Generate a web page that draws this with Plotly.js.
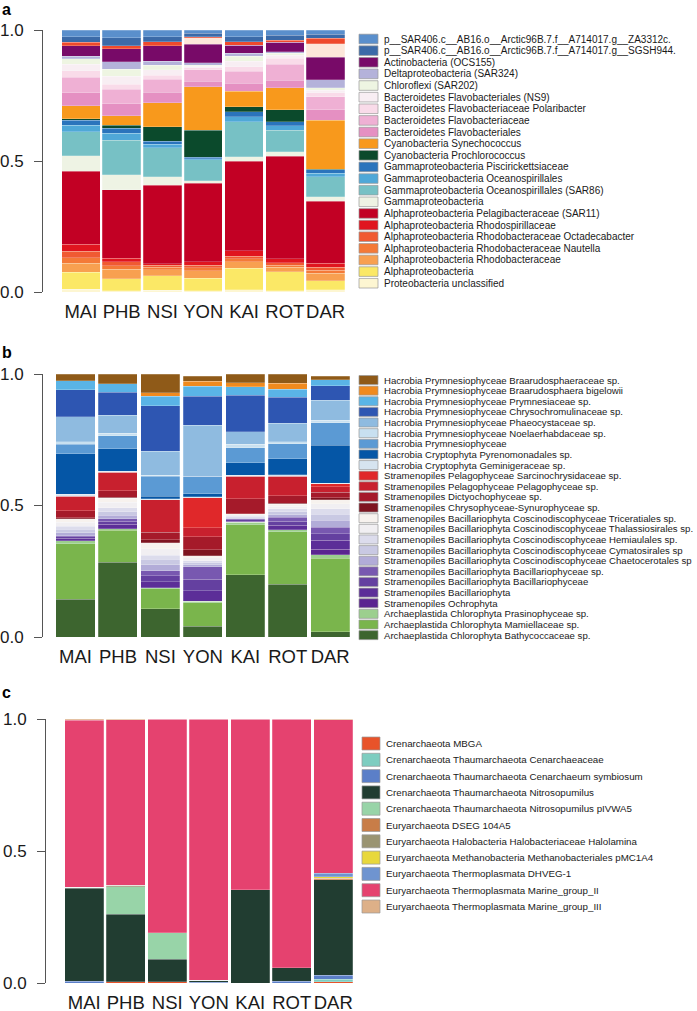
<!DOCTYPE html>
<html><head><meta charset="utf-8">
<script src="https://cdn.plot.ly/plotly-3.0.1.min.js"></script>
<style>body{margin:0;padding:0;background:#fff}#chart{width:697px;height:1011px}</style>
</head><body><div id="chart"></div><script>
const W = 697, H = 1011;
const sites = ['MAI','PHB','NSI','YON','KAI','ROT','DAR'];

// ---------- Panel a (bacteria), stacking order bottom -> top ----------
const taxaA = [
  'Proteobacteria unclassified','Alphaproteobacteria','Alphaproteobacteria Rhodobacteraceae',
  'Alphaproteobacteria Rhodobacteraceae Nautella','Alphaproteobacteria Rhodobacteraceae Octadecabacter',
  'Alphaproteobacteria Rhodospirillaceae','Alphaproteobacteria Pelagibacteraceae (SAR11)',
  'Gammaproteobacteria','Gammaproteobacteria Oceanospirillales (SAR86)','Gammaproteobacteria Oceanospirillales',
  'Gammaproteobacteria Piscirickettsiaceae','Cyanobacteria Prochlorococcus','Cyanobacteria Synechococcus',
  'Bacteroidetes Flavobacteriales','Bacteroidetes Flavobacteriaceae','Bacteroidetes Flavobacteriaceae Polaribacter',
  'Bacteroidetes Flavobacteriales (NS9)','Chloroflexi (SAR202)','Deltaproteobacteria (SAR324)','Actinobacteria (OCS155)',
  '', '',
  'p__SAR406.c__AB16.o__Arctic96B.7.f__A714017.g__SGSH944.','p__SAR406.c__AB16.o__Arctic96B.7.f__A714017.g__ZA3312c.'
];
const colorsA = [
  '#fdf6d2','#fbe866','#f8a050','#f47a38','#f05a32','#e0151f','#c20024',
  '#eef3e4','#77c1c5','#4fa8d8','#2a74bc','#0b4a2c','#f8991c',
  '#e590c2','#efb0d4','#f9dbe9','#f8eef3','#eef5e2','#b4b2da','#780a68',
  '#fde7da','#ef4a2c','#3b6aa8','#5a8fcc'
];
const a_MAI = [.010,.065,.035,.020,.025,.028,.277,.060,.092,.025,.018,.007,.048,.050,.060,.025,.025,.020,.010,.040,0,.013,.022,.025];
const a_PHB = [.005,.046,.036,.013,.015,.013,.262,.057,.133,.025,.020,.012,.036,.045,.055,.020,.030,.027,.028,.050,0,.012,.030,.030];
const a_NSI = [.006,.056,.022,.010,.009,.004,.301,.032,.111,.013,.012,.055,.091,.040,.050,.016,.020,.018,.014,.060,0,.015,.020,.025];
const a_YON = [.004,.048,.029,.012,.010,.013,.299,.009,.080,.005,.005,.104,.166,.020,.045,.007,.005,.004,.010,.070,.025,.005,.012,.013];
const a_KAI = [.008,.082,.026,.010,.011,.021,.342,.016,.134,.019,.019,.019,.060,.030,.045,.018,.020,.020,.012,.030,0,.013,.020,.025];
const a_ROT = [.005,.073,.016,.009,.009,.015,.392,.016,.083,.017,.015,.045,.084,.030,.060,.023,.012,.008,.005,.037,0,.006,.020,.020];
const a_DAR = [.008,.035,.028,.012,.011,.016,.237,.017,.076,.013,.013,.002,.187,.040,.050,.015,.010,.010,.030,.086,.052,.020,.015,.017];
const valsA = [a_MAI,a_PHB,a_NSI,a_YON,a_KAI,a_ROT,a_DAR];

// ---------- Panel b (eukaryotes), stacking order bottom -> top ----------
const taxaB = [
  'Archaeplastida Chlorophyta Bathycoccaceae sp.','Archaeplastida Chlorophyta Mamiellaceae sp.',
  'Archaeplastida Chlorophyta Prasinophyceae sp.','Stramenopiles Ochrophyta','Stramenopiles Bacillariophyta',
  'Stramenopiles Bacillariophyta Bacillariophyceae','Stramenopiles Bacillariophyta Bacillariophyceae sp.',
  'Stramenopiles Bacillariophyta Coscinodiscophyceae Chaetocerotales sp','Stramenopiles Bacillariophyta Coscinodiscophyceae Cymatosirales sp',
  'Stramenopiles Bacillariophyta Coscinodiscophyceae Hemiaulales sp.','Stramenopiles Bacillariophyta Coscinodiscophyceae Thalassiosirales sp.',
  'Stramenopiles Bacillariophyta Coscinodiscophyceae Triceratiales sp.','Stramenopiles Chrysophyceae-Synurophyceae sp.',
  'Stramenopiles Dictyochophyceae sp.','Stramenopiles Pelagophyceae Pelagophyceae sp.','Stramenopiles Pelagophyceae Sarcinochrysidaceae sp.',
  'Hacrobia Cryptophyta Geminigeraceae sp.','Hacrobia Cryptophyta Pyrenomonadales sp.','Hacrobia Prymnesiophyceae',
  'Hacrobia Prymnesiophyceae Noelaerhabdaceae sp.','Hacrobia Prymnesiophyceae Phaeocystaceae sp.',
  'Hacrobia Prymnesiophyceae Chrysochromulinaceae sp.','Hacrobia Prymnesiophyceae Prymnesiaceae sp.',
  'Hacrobia Prymnesiophyceae Braarudosphaera bigelowii','Hacrobia Prymnesiophyceae Braarudosphaeraceae sp.'
];
const colorsB = [
  '#3d652f','#7ab54c','#9ccf8e','#5a2490','#5c2e98','#6440a0','#7858b0',
  '#b2acd8','#c9c9e3','#dcdcec','#f1eff2','#f7f2ee','#7e1520','#a51a2a','#c8202e','#e0282a',
  '#d6e4f0','#0556a6','#5b9ad4','#c8e0f0','#8fbbe0','#2e56b2','#5ab4e6','#f08a1e','#8f5a18'
];
const b_MAI = [.144,.210,.012,0,.009,.006,.004,.012,.012,.013,.015,.012,.004,.028,.054,0,.007,.155,.036,.009,.095,.103,.034,0,.026];
const b_PHB = [.284,.121,.006,0,.018,.012,.008,.013,.015,.015,.020,.015,.004,.025,.070,0,.004,.086,.050,.008,.070,.086,.032,0,.038];
const b_NSI = [.108,.075,.005,0,.022,.022,.020,.023,.020,.015,.026,.022,.011,.029,.124,0,.003,.010,.076,.004,.092,.172,.037,.013,.071];
const b_YON = [.040,.090,.005,0,.041,.044,.047,.007,.008,.008,.011,.008,.022,.051,.033,.115,.004,.011,.067,0,.194,.109,.038,.020,.019];
const b_KAI = [.237,.190,.009,0,.005,.004,.004,.003,.004,.004,.004,.004,0,.058,.085,0,.004,.048,.057,.013,.047,.140,.032,.015,.033];
const b_ROT = [.200,.200,.007,0,.018,.015,.015,.010,.012,.011,.009,.008,.004,.029,.074,0,.005,.061,.057,.007,.070,.099,.031,.023,.035];
const b_DAR = [.020,.280,.013,.020,.034,.025,.025,.027,.023,.020,.020,.015,.008,.020,.022,.010,.003,.144,.086,.009,.077,.054,.024,0,.013];
const valsB = [b_MAI,b_PHB,b_NSI,b_YON,b_KAI,b_ROT,b_DAR];

// ---------- Panel c (archaea), stacking order bottom -> top (= legend order) ----------
const taxaC = [
  'Crenarchaeota MBGA','Crenarchaeota Thaumarchaeota Cenarchaeaceae','Crenarchaeota Thaumarchaeota Cenarchaeum symbiosum',
  'Crenarchaeota Thaumarchaeota Nitrosopumilus','Crenarchaeota Thaumarchaeota Nitrosopumilus pIVWA5',
  'Euryarchaeota DSEG 104A5','Euryarchaeota Halobacteria Halobacteriaceae Halolamina',
  'Euryarchaeota Methanobacteria Methanobacteriales pMC1A4','Euryarchaeota Thermoplasmata DHVEG-1',
  'Euryarchaeota Thermoplasmata Marine_group_II','Euryarchaeota Thermoplasmata Marine_group_III'
];
const colorsC = ['#e8532a','#7ecdc0','#5b7fc8','#213d31','#98d4a8','#c87d48','#9a9472','#e8d83c','#6f94d0','#e5426f','#ddb088'];
const c_MAI = [0,0,.006,.352,.004,0,0,0,0,.633,.005];
const c_PHB = [.004,0,0,.257,.104,0,.006,0,0,.627,.002];
const c_NSI = [.004,0,0,.086,.100,0,0,0,0,.810,0];
const c_YON = [0,0,.003,.008,0,0,0,0,0,.989,0];
const c_KAI = [0,0,0,.354,0,0,0,0,0,.646,0];
const c_ROT = [0,0,.006,.052,0,0,0,0,0,.942,0];
const c_DAR = [.004,.010,.015,.363,0,.005,0,.005,.013,.582,.003];
const valsC = [c_MAI,c_PHB,c_NSI,c_YON,c_KAI,c_ROT,c_DAR];

const yTickVals = [0, 0.5, 1];
const yTickText = ['0.0','0.5','1.0'];

// ---------- geometry (pixels) ----------
const FONT = 'Liberation Sans, Arial, Helvetica, sans-serif';
const panels = [
  {taxa:taxaA, colors:colorsA, vals:valsA, xa:'x',  ya:'y',  axisX:43, catW:40.8, firstC:80.85, barW:0.94, top:30,  bot:292,
   leg:{x0:359, x1:378, tx:382, y0:39, dy:11.63, h:9.6, fs:10, order:'rev'}, letter:'a', letterY:10},
  {taxa:taxaB, colors:colorsB, vals:valsB, xa:'x2', ya:'y2', axisX:43, catW:42.45, firstC:75.5, barW:0.92, top:374, bot:637,
   leg:{x0:359, x1:378, tx:382, y0:380, dy:10.63, h:9.0, fs:9.6, order:'rev'}, letter:'b', letterY:352},
  {taxa:taxaC, colors:colorsC, vals:valsC, xa:'x3', ya:'y3', axisX:46, catW:41.5, firstC:84.25, barW:0.93, top:719, bot:983,
   leg:{x0:362, x1:380, tx:384, y0:743.5, dy:16.3, h:13, fs:9.75, order:'fwd'}, letter:'c', letterY:692}
];

const traces = [];
const shapes = [];
const annotations = [];
const layout = {
  width: W, height: H, margin:{l:0,r:0,t:0,b:0,pad:0},
  paper_bgcolor:'#fff', plot_bgcolor:'#fff', barmode:'stack', showlegend:false,
  font:{family:FONT, color:'#1a1a1a'}, shapes, annotations
};

panels.forEach((p, pi) => {
  p.taxa.forEach((name, ti) => {
    traces.push({
      type:'bar', x:sites, y:p.vals.map(v => v[ti]), name: name || 'other',
      xaxis:p.xa, yaxis:p.ya, width:p.barW,
      marker:{color:p.colors[ti], line:{color:'rgba(255,255,255,0.55)', width:0.4}},
      hoverinfo:'skip'
    });
  });
  const leftEdge = p.firstC - p.catW/2;
  const extra = (leftEdge - p.axisX)/p.catW;
  const right = p.firstC + 6.5*p.catW;
  const sfx = pi === 0 ? '' : String(pi+1);
  layout['xaxis'+sfx] = {
    domain:[p.axisX/W, right/W], range:[-0.5-extra, 6.5], type:'category', anchor:p.ya,
    showline:false, ticks:'', showgrid:false, zeroline:false, fixedrange:true, tickangle:0,
    tickfont:{size:18.5, color:'#1a1a1a', family:FONT}, ticklabelstandoff:6
  };
  layout['yaxis'+sfx] = {
    domain:[1-p.bot/H, 1-p.top/H], range:[0,1], anchor:p.xa,
    tickvals:yTickVals, ticktext:yTickText, ticks:'outside', ticklen:8, tickwidth:1, tickcolor:'#555',
    showline:true, linecolor:'#555', linewidth:1, showgrid:false, zeroline:false, fixedrange:true,
    tickfont:{size:17, color:'#1a1a1a', family:FONT}, ticklabelstandoff:7
  };
  // panel letter
  annotations.push({xref:'paper', yref:'paper', x:0, y:1-p.letterY/H, xanchor:'left', yanchor:'middle',
    text:'<b>'+p.letter+'</b>', showarrow:false, font:{size:16, color:'#000', family:FONT}});
  // custom legend (drawn from the taxa and colour arrays)
  let idx = p.taxa.map((n,i)=>i).filter(i => p.taxa[i] !== '');
  if (p.leg.order === 'rev') idx = idx.reverse();
  idx.forEach((ti, k) => {
    const yc = p.leg.y0 + k*p.leg.dy;
    shapes.push({type:'rect', xref:'paper', yref:'paper', x0:p.leg.x0/W, x1:p.leg.x1/W,
      y0:1-(yc+p.leg.h/2)/H, y1:1-(yc-p.leg.h/2)/H, fillcolor:p.colors[ti], line:{color:'#9a9a9a', width:0.7}});
    annotations.push({xref:'paper', yref:'paper', x:p.leg.tx/W, y:1-yc/H, xanchor:'left', yanchor:'middle',
      text:p.taxa[ti], showarrow:false, font:{size:p.leg.fs, color:'#1a1a1a', family:FONT}});
  });
});

Plotly.newPlot('chart', traces, layout, {staticPlot:true, displayModeBar:false});
</script></body></html>
